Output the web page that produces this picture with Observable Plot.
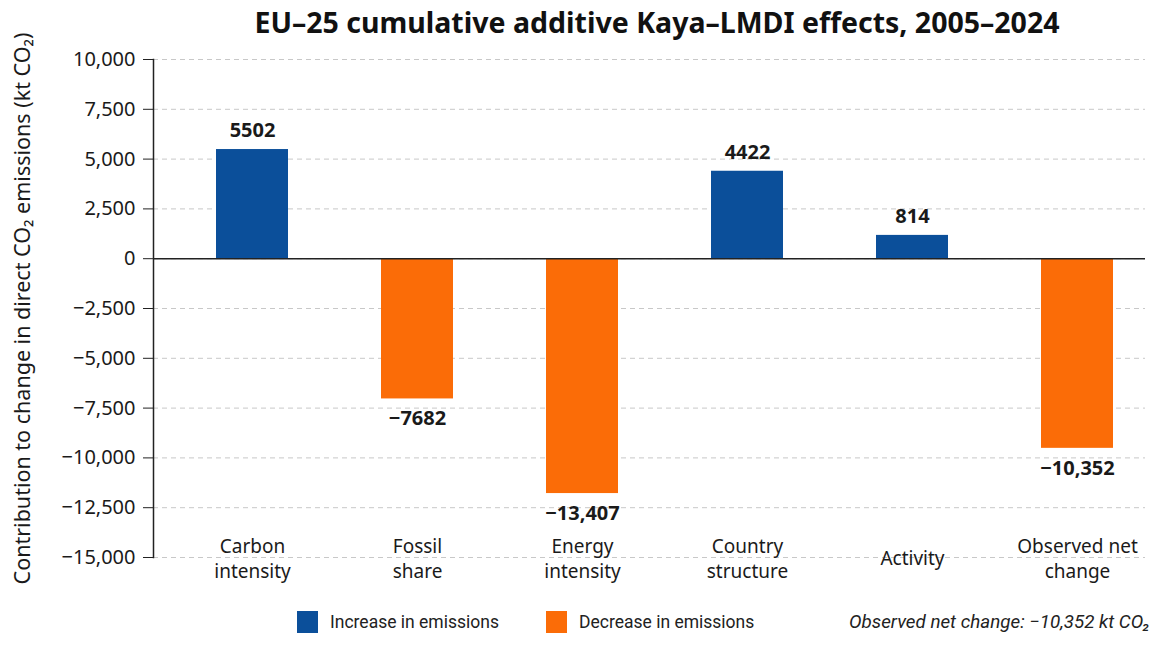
<!DOCTYPE html>
<html>
<head>
<meta charset="utf-8">
<script src="https://cdn.jsdelivr.net/npm/d3@7"></script>
<script src="https://cdn.jsdelivr.net/npm/@observablehq/plot@0.6"></script>
<style>
  html, body { margin: 0; padding: 0; background: #fff; }
  #wrap { position: relative; width: 1174px; height: 656px; overflow: hidden; background: #fff; }
  #title { position: absolute; left: 169px; top: 3px; width: 976px; text-align: center; white-space: nowrap;
           font-family: "Noto Sans", sans-serif; font-weight: 700; font-size: 28.5px; color: #111; }
  #chart { position: absolute; left: 0; top: 0; }
  #legend { position: absolute; left: 0; top: 610px; width: 1174px; height: 24px;
            font-family: "Liberation Sans Narrow", Roboto, sans-serif; font-size: 17.5px; color: #222; }
  .item { position: absolute; top: 0; display: flex; align-items: center; height: 24px; }
  .sw { width: 21px; height: 22px; margin-right: 12px; }
  #note { position: absolute; top: 0; left: 849px; height: 24px; line-height: 24px; font-style: italic; font-size: 18.8px; }
</style>
</head>
<body>
<div id="wrap">
  <div id="chart"></div>
  <div id="title"></div>
  <div id="legend"></div>
</div>
<script>
// ---- data ----
const categories = ["Carbon intensity", "Fossil share", "Energy intensity", "Country structure", "Activity", "Observed net change"];
const categoryLabels = ["Carbon\nintensity", "Fossil\nshare", "Energy\nintensity", "Country\nstructure", "Activity", "Observed net\nchange"];
// bar heights as drawn in the picture (kt CO2)
const barValues = [5480, -7040, -11790, 4390, 1170, -9520];
// value labels as printed in the picture
const valueLabels = ["5502", "−7682", "−13,407", "4422", "814", "−10,352"];
const yTicks = [10000, 7500, 5000, 2500, 0, -2500, -5000, -7500, -10000, -12500, -15000];
const seriesNames = ["Increase in emissions", "Decrease in emissions"];
const seriesColors = ["#0b4f9a", "#fb6c07"];
const titleText = "EU–25 cumulative additive Kaya–LMDI effects, 2005–2024";
const yLabel = "Contribution to change in direct CO₂ emissions (kt CO₂)";
const noteText = "Observed net change: −10,352 kt CO₂";

const data = categories.map((c, i) => ({
  cat: c, value: barValues[i], label: valueLabels[i],
  series: barValues[i] >= 0 ? seriesNames[0] : seriesNames[1]
}));
const labelOf = new Map(categories.map((c, i) => [c, categoryLabels[i]]));

const font = "'Noto Sans', sans-serif";
const chart = Plot.plot({
  width: 1174,
  height: 600,
  marginTop: 59,
  marginBottom: 43,
  marginLeft: 153,
  marginRight: 29,
  style: { fontFamily: font, background: "transparent", color: "#1a1a1a" },
  x: { domain: categories, range: [214, 1114], padding: 0.566, paddingOuter: 0 },
  y: { domain: [-15000, 10000] },
  color: { domain: seriesNames, range: seriesColors },
  marks: [
    Plot.gridY(yTicks, { stroke: "#c8c8c8", strokeOpacity: 1, strokeDasharray: "5,4" }),
    Plot.barY(data, { x: "cat", y: "value", fill: "series" }),
    Plot.ruleY([0], { stroke: "#222", strokeWidth: 1.5 }),
    Plot.frame({ anchor: "left", stroke: "#222", strokeWidth: 1.5 }),
    Plot.axisY({
      ticks: yTicks, tickSize: 10, tickPadding: 8, fontSize: 20, stroke: "#222",
      label: yLabel, labelAnchor: "center", labelArrow: "none", labelOffset: 139
    }),
    Plot.axisX({
      anchor: "bottom", tickSize: 0, tickPadding: 0, lineAnchor: "middle",
      fontSize: 19, tickFormat: d => labelOf.get(d), label: null, lineHeight: 1.3
    }),
    Plot.text(data.filter(d => d.value >= 0), {
      x: "cat", y: "value", text: "label", dy: -19, fontSize: 20, fontWeight: 700, fill: "#1a1a1a"
    }),
    Plot.text(data.filter(d => d.value < 0), {
      x: "cat", y: "value", text: "label", dy: 20, fontSize: 20, fontWeight: 700, fill: "#1a1a1a"
    })
  ]
});
document.getElementById("chart").appendChild(chart);
// enlarge the y-axis title font
chart.querySelectorAll("g[aria-label='y-axis label'] text").forEach(t => t.setAttribute("font-size", 21.5));

document.getElementById("title").textContent = titleText;

const legend = document.getElementById("legend");
const lefts = [297, 546];
seriesNames.forEach((s, i) => {
  const it = document.createElement("div");
  it.className = "item";
  it.style.left = lefts[i] + "px";
  const sw = document.createElement("div");
  sw.className = "sw";
  sw.style.background = seriesColors[i];
  const tx = document.createElement("span");
  tx.textContent = s;
  it.appendChild(sw); it.appendChild(tx);
  legend.appendChild(it);
});
const note = document.createElement("div");
note.id = "note";
note.textContent = noteText;
legend.appendChild(note);
</script>
</body>
</html>
